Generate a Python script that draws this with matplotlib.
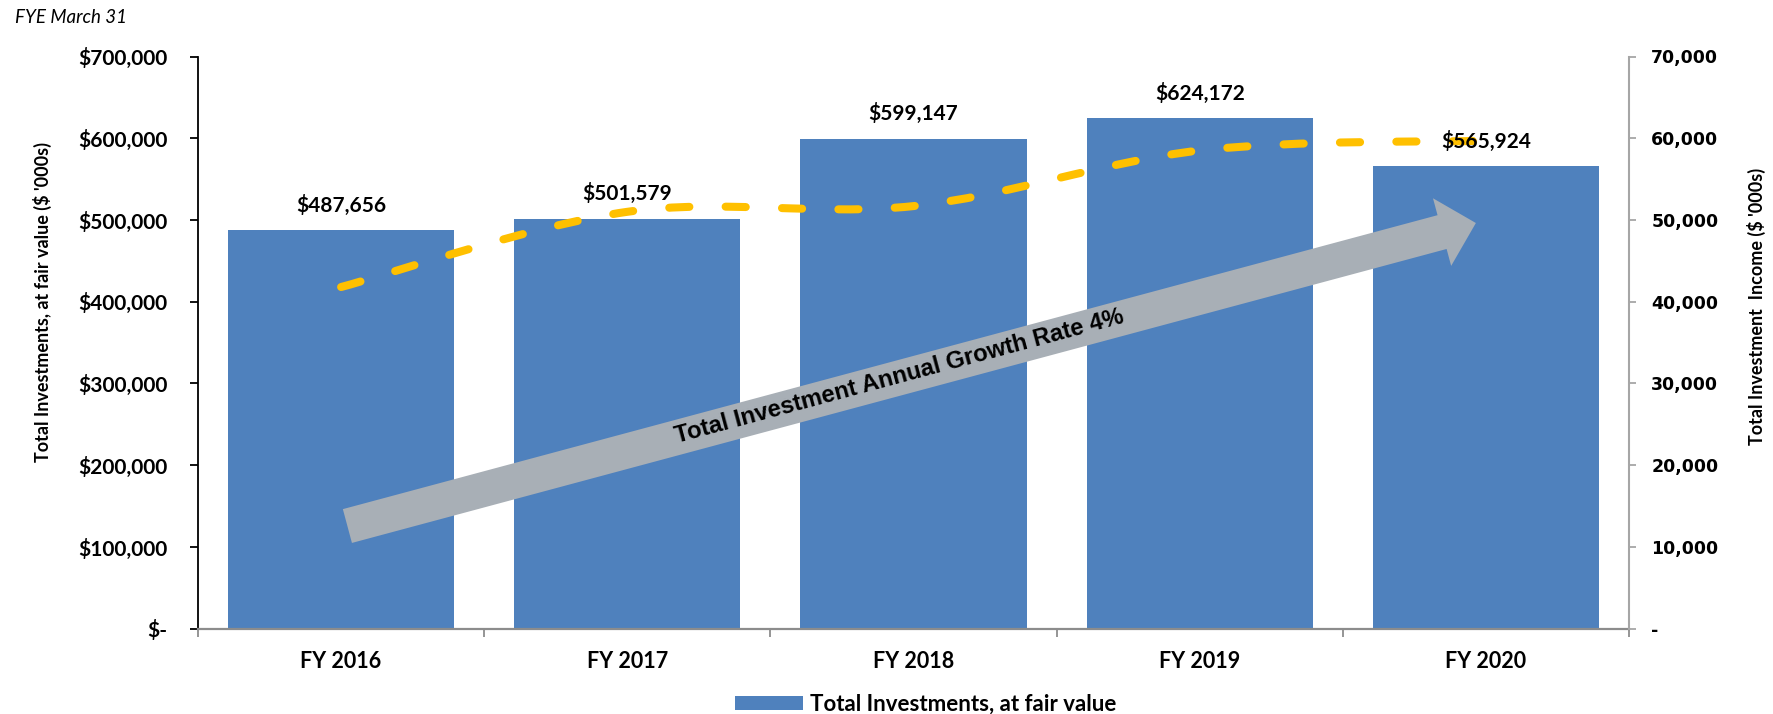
import numpy as np
import matplotlib.pyplot as plt
from matplotlib.path import Path
from matplotlib.patches import PathPatch
from matplotlib.ticker import FuncFormatter, MultipleLocator

# chart data, FYE March 31, $ '000s
years = ['FY 2016', 'FY 2017', 'FY 2018', 'FY 2019', 'FY 2020']
investments = [487656, 501579, 599147, 624172, 565924]
income = [41800, 51000, 51700, 58500, 59700]

bar_name = 'Total Investments, at fair value'
arrow_text = 'Total Investment Annual Growth Rate 4%'

BLUE = '#4F81BD'
GOLD = '#FFC000'
ARROW_GRAY = '#A8AFB6'

plt.rcParams['font.family'] = ['Lato', 'DejaVu Sans']
plt.rcParams['font.weight'] = 'bold'


def smooth_path(xs, ys):
    """smoothed line like excel: bezier segments through every point"""
    pts = np.column_stack([xs, ys]).astype(float)
    n = len(pts)
    verts = [pts[0]]
    codes = [Path.MOVETO]
    for i in range(n - 1):
        p0 = pts[max(i - 1, 0)]
        p1 = pts[i]
        p2 = pts[i + 1]
        p3 = pts[min(i + 2, n - 1)]
        verts += [p1 + (p2 - p0) / 6.0, p2 - (p3 - p1) / 6.0, p2]
        codes += [Path.CURVE4] * 3
    return Path(verts, codes)


fig = plt.figure(figsize=(17.73, 7.14), dpi=100)
ax = fig.add_axes([198 / 1773, 1 - 628.7 / 714, 1431 / 1773, 572.2 / 714])

x = np.arange(len(years))
bars = ax.bar(x, investments, width=0.79, color=BLUE, zorder=2)

ax.set_xlim(-0.5, len(years) - 0.5)
ax.set_ylim(0, 700000)
ax.yaxis.set_major_locator(MultipleLocator(100000))
ax.yaxis.set_major_formatter(FuncFormatter(lambda v, _: '$-' if v == 0 else f'${v:,.0f}'))
ax.set_xticks(x)
ax.set_xticklabels(years)
ax.set_xticks(np.arange(len(years) + 1) - 0.5, minor=True)
ax.tick_params(axis='x', which='major', length=0, pad=16, labelsize=15.5)
ax.tick_params(axis='x', which='minor', length=6, width=1.3, color='#8C8C8C')
ax.tick_params(axis='y', length=6, width=1.3, color='black', pad=16, labelsize=15)

for side in ['top', 'right']:
    ax.spines[side].set_visible(False)
ax.spines['left'].set_linewidth(1.3)
ax.spines['bottom'].set_color('#8C8C8C')
ax.spines['bottom'].set_linewidth(1.6)

ax.set_ylabel("Total Investments, at fair value ($ '000s)", fontsize=13, fontweight='bold')
ax.yaxis.set_label_coords(-0.102, 0.571)

# income axis on the right
ax2 = ax.twinx()
ax2.set_ylim(0, 70000)
ax2.yaxis.set_major_locator(MultipleLocator(10000))
ax2.yaxis.set_major_formatter(FuncFormatter(lambda v, _: '-' if v == 0 else f'{v:,.0f}'))
ax2.tick_params(axis='y', length=5, width=1.3, color='#A6A6A6', pad=11, labelsize=12.5,
                labelfontfamily='DejaVu Sans')
for side in ['top', 'left', 'bottom']:
    ax2.spines[side].set_visible(False)
ax2.spines['right'].set_color('#A6A6A6')
ax2.spines['right'].set_linewidth(1.5)
ax2.set_ylabel("Total Investment  Income ($ '000s)", fontsize=13, fontweight='bold')
ax2.yaxis.set_label_coords(1.0825, 0.564)

line = PathPatch(smooth_path(x, income), fill=False, edgecolor=GOLD, linewidth=5.8,
                 linestyle=(0, (2.5, 4.5)), capstyle='round', zorder=3)
ax2.add_patch(line)

# value labels above the bars (on ax2 so they sit over the dashed line)
for xi, v in zip(x, investments):
    ax2.annotate(f'${v:,}', xy=(xi, v), xycoords=ax.transData, xytext=(0, 18),
                 textcoords='offset points', ha='center', va='center', fontsize=15, zorder=5)

# growth arrow
arrow_tail = (0.022, 125600)
arrow_tip = (3.965, 496300)
ax.annotate('', xy=arrow_tip, xytext=arrow_tail,
            arrowprops=dict(arrowstyle='simple,head_length=1.0,head_width=2.0,tail_width=1.0',
                            mutation_scale=25.2, fc=ARROW_GRAY, ec='none', shrinkA=0, shrinkB=0),
            zorder=3)
ax.text(1.958, 301100, arrow_text, rotation=15.05, rotation_mode='anchor', ha='center',
        va='baseline', fontsize=17.2, family=['Liberation Sans', 'DejaVu Sans'], zorder=4)

fig.legend(handles=[bars], labels=[bar_name], loc='center', bbox_to_anchor=(926 / 1773, 1 - 704 / 714),
           frameon=False, fontsize=16, handlelength=3.06, handleheight=0.6, handletextpad=0.3,
           borderpad=0)

fig.text(15 / 1773, 1 - 17.5 / 714, 'FYE March 31', fontsize=13.5, style='italic',
         fontweight='normal', ha='left', va='center')

fig.savefig('out.png', dpi=100)
